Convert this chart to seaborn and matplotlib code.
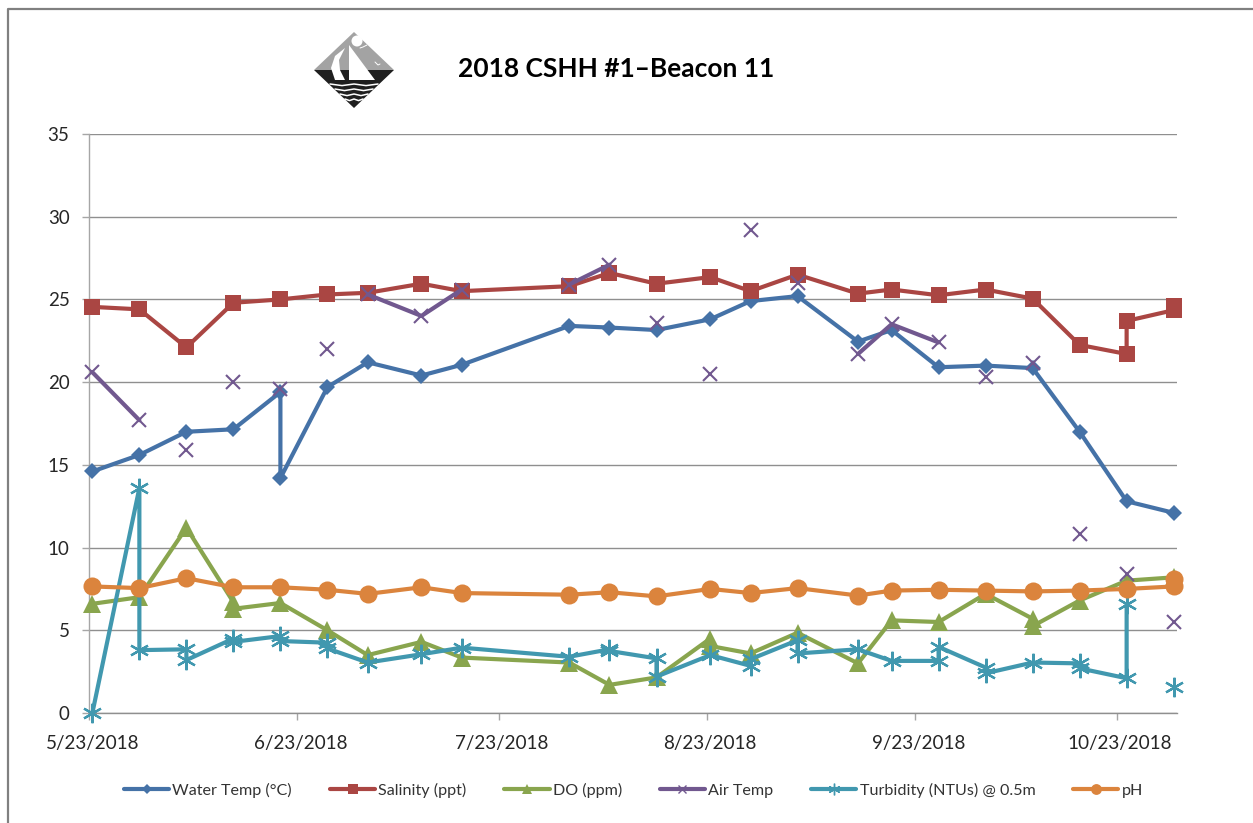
import pandas as pd
import matplotlib
matplotlib.use('Agg')
import matplotlib.pyplot as plt
from matplotlib.lines import Line2D
from matplotlib.patches import Polygon, Circle
import seaborn as sns

# survey dates, some of them have two readings
water_dates = ['5/23', '5/30', '6/6', '6/13', '6/20', '6/20', '6/27', '7/3', '7/11', '7/17', '8/2', '8/8',
               '8/15', '8/23', '8/29', '9/5', '9/14', '9/19', '9/26', '10/3', '10/10', '10/17', '10/24', '10/31']
water_temp = [14.6, 15.6, 17.0, 17.15, 19.4, 14.2, 19.7, 21.2, 20.4, 21.05, 23.4, 23.3,
              23.15, 23.8, 24.9, 25.2, 22.45, 23.15, 20.9, 21.0, 20.85, 17.0, 12.8, 12.1]

salinity_dates = ['5/23', '5/30', '6/6', '6/13', '6/20', '6/27', '7/3', '7/11', '7/17', '8/2', '8/8', '8/15',
                  '8/23', '8/29', '9/5', '9/14', '9/19', '9/26', '10/3', '10/10', '10/17', '10/24', '10/24',
                  '10/31', '10/31']
salinity = [24.55, 24.4, 22.1, 24.8, 25.0, 25.3, 25.4, 25.95, 25.5, 25.8, 26.6, 25.95,
            26.35, 25.5, 26.5, 25.35, 25.6, 25.25, 25.6, 25.05, 22.25, 21.7, 23.7,
            24.35, 24.6]

do_dates = ['5/23', '5/30', '6/6', '6/13', '6/13', '6/20', '6/27', '7/3', '7/11', '7/17', '8/2', '8/8', '8/15',
            '8/23', '8/23', '8/29', '9/5', '9/14', '9/19', '9/26', '10/3', '10/10', '10/10', '10/17', '10/24',
            '10/31']
do_ppm = [6.6, 7.0, 11.2, 6.7, 6.3, 6.65, 5.0, 3.5, 4.3, 3.35, 3.05, 1.7, 2.15,
          4.5, 4.05, 3.6, 4.85, 3.0, 5.6, 5.5, 7.2, 5.7, 5.25, 6.8, 8.0,
          8.2]

air_dates = ['5/23', '5/30', '6/6', '6/13', '6/20', '6/27', '7/3', '7/11', '7/17', '8/2', '8/8', '8/15',
             '8/23', '8/29', '9/5', '9/14', '9/19', '9/26', '10/3', '10/10', '10/17', '10/24', '10/31']
air_temp = [20.6, 17.7, 15.9, 20.0, 19.6, 22.0, 25.3, 24.0, 25.6, 25.9, 27.1, 23.6,
            20.5, 29.2, 26.0, 21.7, 23.5, 22.4, 20.3, 21.15, 10.8, 8.4, 5.5]
# readings with the same number are joined, the chart has gaps between the others
air_runs = [0, 0, 1, 2, 3, 4, 5, 5, 5, 6, 6, 7,
            8, 9, 10, 11, 11, 11, 12, 13, 14, 15, 16]

turb_dates = ['5/23', '5/30', '5/30', '6/6', '6/6', '6/13', '6/13', '6/20', '6/20', '6/27', '6/27', '7/3', '7/11',
              '7/17', '8/2', '8/8', '8/8', '8/15', '8/15', '8/23', '8/29', '8/29', '9/5', '9/5', '9/14', '9/19',
              '9/26', '9/26', '10/3', '10/3', '10/10', '10/17', '10/17', '10/24', '10/24', '10/31']
turbidity = [0.0, 13.6, 3.8, 3.85, 3.2, 4.5, 4.3, 4.65, 4.35, 4.25, 3.9, 3.05, 3.55,
             3.95, 3.4, 3.85, 3.75, 3.3, 2.2, 3.5, 2.85, 3.25, 4.4, 3.6, 3.85, 3.15,
             3.15, 4.0, 2.75, 2.4, 3.05, 3.0, 2.7, 2.1, 6.6, 1.6]
turb_runs = [0] * 35 + [1]

ph_dates = ['5/23', '5/30', '6/6', '6/13', '6/20', '6/27', '7/3', '7/11', '7/17', '8/2', '8/8', '8/15',
            '8/23', '8/29', '9/5', '9/14', '9/19', '9/26', '10/3', '10/10', '10/17', '10/24', '10/31', '10/31']
ph = [7.65, 7.55, 8.15, 7.6, 7.6, 7.45, 7.2, 7.6, 7.25, 7.15, 7.3, 7.05,
      7.5, 7.25, 7.55, 7.1, 7.4, 7.45, 7.4, 7.35, 7.4, 7.5, 7.65, 8.1]

tick_dates = ['5/23', '6/23', '7/23', '8/23', '9/23', '10/23']
tick_labels = ['5/23/2018', '6/23/2018', '7/23/2018', '8/23/2018', '9/23/2018', '10/23/2018']
y_ticks = [0, 5, 10, 15, 20, 25, 30, 35]


def to_date(d):
    return pd.to_datetime(d + '/2018', format='%m/%d/%Y')


sns.set_theme(style='white')
plt.rcParams['font.family'] = ['Lato', 'DejaVu Sans']

W, H = 1253, 823
fig = plt.figure(figsize=(W / 100, H / 100), dpi=100, facecolor='white')

# plot area in pixels of the reference
left, right, top, bottom = 89, 1177, 134, 713
ax = fig.add_axes([left / W, 1 - bottom / H, (right - left) / W, (bottom - top) / H])

grid_col = '#8f8f8f'
series = [
    ('Water Temp (°C)', water_dates, water_temp, None, '#4572A7',
     dict(marker='D', markersize=8.6)),
    ('Salinity (ppt)', salinity_dates, salinity, None, '#AA4643',
     dict(marker='s', markersize=11.5)),
    ('DO (ppm)', do_dates, do_ppm, None, '#89A54E',
     dict(marker='^', markersize=12.5)),
    ('Air Temp', air_dates, air_temp, air_runs, '#71588F',
     dict(marker='x', markersize=10, markeredgewidth=1.5, markeredgecolor='#71588F')),
    ('Turbidity (NTUs) @ 0.5m', turb_dates, turbidity, turb_runs, '#4198AF',
     dict(marker=(6, 2, 0), markersize=14, markeredgewidth=1.6, markeredgecolor='#4198AF')),
    ('pH', ph_dates, ph, None, '#DB843D',
     dict(marker='o', markersize=13)),
]

ax.set_axisbelow(True)
handles = []
for name, dates, values, runs, col, mk in series:
    df = pd.DataFrame({'date': [to_date(d) for d in dates], 'value': values,
                       'run': runs if runs is not None else [0] * len(values)})
    style = dict(markeredgewidth=0, markeredgecolor=col)
    style.update(mk)
    sns.lineplot(data=df, x='date', y='value', units='run', estimator=None, sort=False,
                 ax=ax, color=col, linewidth=3.0, legend=False, clip_on=False, zorder=3, **style)
    small = dict(style)
    small['markersize'] = mk['markersize'] * 0.6
    small['markeredgewidth'] = min(style['markeredgewidth'], 1)
    handles.append(Line2D([], [], color=col, linewidth=3.0, label=name, **small))

ax.set_xlim(pd.Timestamp('2018-05-22 12:00'), pd.Timestamp('2018-10-31 12:00'))
ax.set_ylim(0, 35)
ax.set_xlabel('')
ax.set_ylabel('')

# labels sit on the date, the tick marks half a day before it (Excel date axis)
tick_pos = [to_date(d) for d in tick_dates]
ax.set_xticks(tick_pos)
ax.set_xticklabels(tick_labels)
ax.set_xticks([t - pd.Timedelta(hours=12) for t in tick_pos], minor=True)
ax.tick_params(axis='x', which='major', length=0, pad=16, labelsize=13.6, labelcolor='#262626')
ax.tick_params(axis='x', which='minor', length=5, width=1, color='#a6a6a6', bottom=True)
ax.set_yticks(y_ticks)
ax.tick_params(axis='y', length=5, width=1, color='#a6a6a6', pad=9, labelsize=13.5, labelcolor='#262626', left=True)
ax.grid(axis='y', color=grid_col, linewidth=1)
ax.grid(axis='x', visible=False)
for s in ['top', 'right']:
    ax.spines[s].set_visible(False)
ax.spines['left'].set_color('#a6a6a6')
ax.spines['left'].set_linewidth(1)
ax.spines['bottom'].set_color(grid_col)
ax.spines['bottom'].set_linewidth(1)

fig.legend(handles=handles, loc='center', bbox_to_anchor=(633.5 / W, 1 - 790.5 / H), ncols=6, frameon=False,
           fontsize=11.6, handlelength=2.8, handletextpad=0.2, columnspacing=2.35, labelcolor='#333333')

# overlay in pixel coordinates for the frame, title and logo
deco = fig.add_axes([0, 0, 1, 1], zorder=-1)
deco.set_xlim(0, W)
deco.set_ylim(H, 0)
deco.axis('off')
deco.plot([8, 8, W], [H, 9, 9], color='#808080', linewidth=1.6)

deco.text(616, 69, '2018 CSHH #1–Beacon 11', ha='center', va='center', fontsize=19, fontweight='bold',
          color='black')

# logo
deco.add_patch(Polygon([(354, 32), (394, 70), (314, 70)], fc='#a3a3a3', ec='none'))
deco.add_patch(Polygon([(314, 70), (394, 70), (354, 108)], fc='#1f1f1f', ec='none'))
deco.add_patch(Circle((357, 41), 5.5, fc='white', ec='none'))
deco.add_patch(Polygon([(349, 45), (375, 80), (349, 80)], fc='white', ec='none'))
deco.add_patch(Polygon([(345, 48), (335, 56), (331, 68), (335, 80), (345, 80), (340, 70), (339, 60)],
                       fc='white', ec='none'))
deco.plot([360, 363, 367], [48, 47, 45], color='white', linewidth=0.7)
deco.plot([375, 378, 380], [62, 65, 64], color='white', linewidth=0.7)
for wave_y, half in [(84, 24), (89, 19), (94, 14), (99, 9)]:
    xs = [354 - half, 354 - half / 2, 354, 354 + half / 2, 354 + half]
    ys = [wave_y, wave_y + 1.6, wave_y, wave_y + 1.6, wave_y]
    deco.plot(xs, ys, color='white', linewidth=1.1)

fig.savefig('out.png', dpi=100)
